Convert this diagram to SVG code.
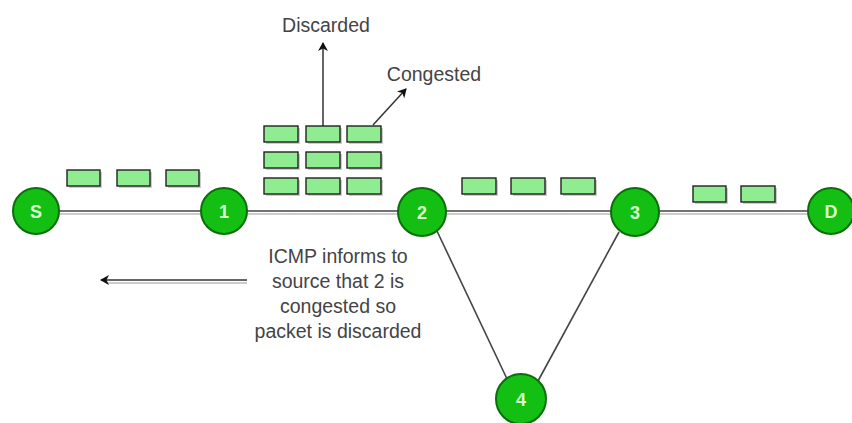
<svg xmlns="http://www.w3.org/2000/svg" width="852" height="423" viewBox="0 0 852 423">
<defs>
<marker id="ah" markerWidth="10" markerHeight="10" refX="8" refY="5" orient="auto" markerUnits="userSpaceOnUse"><path d="M0,0 L9,5 L0,10 L2.5,5 Z" fill="#111"/></marker>
</defs>
<style>
.link{stroke:#444;stroke-width:1.6;fill:none}
.shadow{stroke:#bbb;stroke-width:1.6;fill:none}
.node circle{fill:#12bf12;stroke:#0b6e0b;stroke-width:2}
.node text{font-family:"Liberation Sans",Arial,sans-serif;font-weight:bold;font-size:18px;fill:#d8ffd0;text-anchor:middle}
.pkt{fill:#90ec90;stroke:#222;stroke-width:1.4}
.lbl{font-family:"Liberation Sans",Arial,sans-serif;font-size:19.5px;fill:#444;text-anchor:middle}
.arr{stroke:#333;stroke-width:1.5;fill:none;marker-end:url(#ah)}
</style>
<rect width="852" height="423" fill="#fff"/>
<g id="connectors">
<line class="shadow" x1="36" y1="214" x2="832" y2="214"/>
<line class="link" x1="36" y1="211" x2="832" y2="211"/>
<line class="link" x1="437" y1="231" x2="508" y2="381"/>
<line class="link" x1="619" y1="232" x2="538" y2="381"/>
<line class="arr" x1="323" y1="126" x2="323" y2="43"/>
<line class="arr" x1="373" y1="125" x2="406" y2="89"/>
<line class="shadow" x1="247" y1="283" x2="106" y2="283"/>
<line class="arr" x1="247" y1="280" x2="101" y2="280"/>
</g>
<g id="packets">
<g fill="#ccc">
<rect x="69" y="172" width="33" height="16"/><rect x="119" y="172" width="33" height="16"/><rect x="168" y="172" width="33" height="16"/>
<rect x="266" y="128" width="34" height="16"/><rect x="308" y="128" width="34" height="16"/><rect x="349" y="128" width="34" height="16"/>
<rect x="266" y="154" width="34" height="16"/><rect x="308" y="154" width="34" height="16"/><rect x="349" y="154" width="34" height="16"/>
<rect x="266" y="180" width="34" height="16"/><rect x="308" y="180" width="34" height="16"/><rect x="349" y="180" width="34" height="16"/>
<rect x="464" y="180" width="34" height="16"/><rect x="513" y="180" width="34" height="16"/><rect x="563" y="180" width="34" height="16"/>
<rect x="695" y="188" width="33" height="16"/><rect x="743" y="188" width="34" height="16"/>
</g>
<rect class="pkt" x="67" y="170" width="33" height="16"/><rect class="pkt" x="117" y="170" width="33" height="16"/><rect class="pkt" x="166" y="170" width="33" height="16"/>
<rect class="pkt" x="264" y="126" width="34" height="16"/><rect class="pkt" x="306" y="126" width="34" height="16"/><rect class="pkt" x="347" y="126" width="34" height="16"/>
<rect class="pkt" x="264" y="152" width="34" height="16"/><rect class="pkt" x="306" y="152" width="34" height="16"/><rect class="pkt" x="347" y="152" width="34" height="16"/>
<rect class="pkt" x="264" y="178" width="34" height="16"/><rect class="pkt" x="306" y="178" width="34" height="16"/><rect class="pkt" x="347" y="178" width="34" height="16"/>
<rect class="pkt" x="462" y="178" width="34" height="16"/><rect class="pkt" x="511" y="178" width="34" height="16"/><rect class="pkt" x="561" y="178" width="34" height="16"/>
<rect class="pkt" x="693" y="186" width="33" height="16"/><rect class="pkt" x="741" y="186" width="34" height="16"/>
</g>
<g id="node-S" class="node"><circle cx="36" cy="211" r="23"/><text x="36" y="217.5">S</text></g>
<g id="node-1" class="node"><circle cx="224" cy="211" r="23"/><text x="224" y="217.5">1</text></g>
<g id="node-2" class="node"><circle cx="422" cy="212" r="24"/><text x="422" y="218.5">2</text></g>
<g id="node-3" class="node"><circle cx="635" cy="212" r="24"/><text x="635" y="218.5">3</text></g>
<g id="node-D" class="node"><circle cx="831" cy="211" r="23"/><text x="831" y="217.5">D</text></g>
<g id="node-4" class="node"><circle cx="521" cy="399" r="25"/><text x="521" y="405.5">4</text></g>
<g id="labels">
<text class="lbl" x="326" y="32">Discarded</text>
<text class="lbl" x="434" y="81">Congested</text>
<text class="lbl" x="338" y="263">ICMP informs to</text>
<text class="lbl" x="338" y="288">source that 2 is</text>
<text class="lbl" x="338" y="313">congested so</text>
<text class="lbl" x="338" y="338">packet is discarded</text>
</g>
</svg>
